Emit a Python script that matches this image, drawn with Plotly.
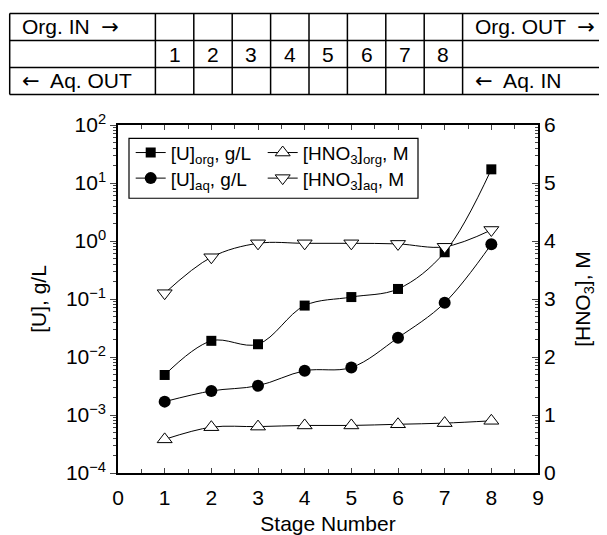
import math
import plotly.graph_objects as go

stages = [1, 2, 3, 4, 5, 6, 7, 8]
u_org = [0.0049, 0.019, 0.0166, 0.077, 0.108, 0.149, 0.64, 17.2]
u_aq = [0.0017, 0.0026, 0.0032, 0.0058, 0.0066, 0.0215, 0.086, 0.88]
hno3_org = [0.58, 0.79, 0.80, 0.82, 0.82, 0.84, 0.86, 0.90]
hno3_aq = [3.10, 3.72, 3.96, 3.96, 3.96, 3.95, 3.90, 4.19]

ARW = '<span style="font-family:DejaVu Sans">{}</span>'
table_top = ["Org. IN  " + ARW.format("\u2192"), "", "", "", "", "", "", "", "", "Org. OUT  " + ARW.format("\u2192")]
table_mid = ["", "1", "2", "3", "4", "5", "6", "7", "8", ""]
table_bot = [ARW.format("\u2190") + "  Aq. OUT", "", "", "", "", "", "", "", "", ARW.format("\u2190") + "  Aq. IN"]

left_tickvals = [1e-4, 1e-3, 1e-2, 1e-1, 1, 10, 100]
left_ticktext = ["10<sup>\u22124</sup>", "10<sup>\u22123</sup>", "10<sup>\u22122</sup>",
                 "10<sup>\u22121</sup>", "10<sup>0</sup>", "10<sup>1</sup>", "10<sup>2</sup>"]

FONT = "Liberation Sans, Arial, Helvetica, sans-serif"
OFF = 8.0  # page body margin
W, H = 607 - OFF, 535 - OFF
L, R, T, B = 118.3 - OFF, 538.3 - OFF, 125.0 - OFF, 473.3 - OFF

def px2x(px):
    return (px - OFF - L) / (R - L)

def px2y(py):
    return (B - (py - OFF)) / (B - T)

fig = go.Figure()

line = dict(color="black", width=1, shape="spline", smoothing=1.0)

fig.add_trace(go.Scatter(x=stages, y=u_org, mode="lines+markers", name="[U]<sub>org</sub>, g/L",
                         legend="legend", line=line, marker=dict(symbol="square", size=10, color="black")))
fig.add_trace(go.Scatter(x=stages, y=u_aq, mode="lines+markers", name="[U]<sub>aq</sub>, g/L",
                         legend="legend2", line=line, marker=dict(symbol="circle", size=12, color="black")))
fig.add_trace(go.Scatter(x=stages, y=hno3_org, mode="lines+markers", name="[HNO<sub>3</sub>]<sub>org</sub>, M",
                         yaxis="y2", legend="legend3", line=line,
                         marker=dict(symbol="triangle-up", size=13, color="white", line=dict(color="black", width=1))))
fig.add_trace(go.Scatter(x=stages, y=hno3_aq, mode="lines+markers", name="[HNO<sub>3</sub>]<sub>aq</sub>, M",
                         yaxis="y2", legend="legend4", line=line,
                         marker=dict(symbol="triangle-down", size=13, color="white", line=dict(color="black", width=1))))

left_minor = [m * 10.0 ** e for e in range(-4, 2) for m in range(2, 10)]
right_minor = [k + math.log10(m) for k in range(0, 6) for m in range(2, 10)]

shapes = []
row_lines = [13.3, 40.5, 67.5, 94.5]
col_lines = [10.0, 155.7] + [155.7 + 38.4 * i for i in range(1, 9)] + [609.0]
for yl in row_lines:
    shapes.append(dict(type="line", xref="paper", yref="paper",
                       x0=px2x(col_lines[0]), x1=px2x(col_lines[-1]), y0=px2y(yl), y1=px2y(yl),
                       line=dict(color="black", width=1.5)))
for xl in col_lines:
    shapes.append(dict(type="line", xref="paper", yref="paper",
                       x0=px2x(xl), x1=px2x(xl), y0=px2y(row_lines[0]), y1=px2y(row_lines[-1]),
                       line=dict(color="black", width=1.5)))

# legend frame
shapes.append(dict(type="rect", xref="paper", yref="paper", layer="above",
                   x0=px2x(129.3), x1=px2x(418.3), y0=px2y(198.3), y1=px2y(138.3),
                   fillcolor="white", line=dict(color="black", width=1.2)))

annotations = []
for r, row in enumerate([table_top, table_mid, table_bot]):
    yc = (row_lines[r] + row_lines[r + 1]) / 2
    for c, txt in enumerate(row):
        if not txt:
            continue
        if c == 0 or c == len(row) - 1:
            xpx = col_lines[c] + 10
            anchor = "left"
        else:
            xpx = (col_lines[c] + col_lines[c + 1]) / 2
            anchor = "center"
        annotations.append(dict(x=px2x(xpx), y=px2y(yc), xref="paper", yref="paper", text=txt,
                                showarrow=False, xanchor=anchor, yanchor="middle",
                                font=dict(family=FONT, size=21, color="black")))

FS = 21
LEGFONT = dict(family=FONT, size=19, color="black")

def leg(xpx, ypx):
    return dict(x=px2x(xpx), y=px2y(ypx), xanchor="left", yanchor="top",
                orientation="v", tracegroupgap=0, bgcolor="rgba(0,0,0,0)", borderwidth=0,
                font=LEGFONT, itemwidth=30)

fig.update_layout(
    width=W, height=H,
    margin=dict(l=L, r=W - R, t=T, b=H - B, pad=0, autoexpand=False),
    paper_bgcolor="white", plot_bgcolor="white",
    font=dict(family=FONT, size=FS, color="black"),
    showlegend=True,
    legend=leg(131, 133.7),
    legend2=leg(131, 159.3),
    legend3=leg(263, 133.7),
    legend4=leg(263, 159.3),
    xaxis=dict(range=[0, 9], dtick=1, tick0=0, ticks="inside", ticklen=5, tickwidth=1.2,
               showline=True, linecolor="black", linewidth=1.5, mirror="ticks",
               showgrid=False, zeroline=False, ticklabelstandoff=5, automargin=False,
               minor=dict(dtick=0.5, tick0=0, ticks="inside", ticklen=4, tickwidth=1.2, showgrid=False),
               title=dict(text="Stage Number", font=dict(size=FS), standoff=15),
               tickfont=dict(size=FS)),
    yaxis=dict(type="log", range=[-4, 2], tickvals=left_tickvals, ticktext=left_ticktext,
               ticks="outside", ticklen=6, tickwidth=1.2, automargin=False,
               showline=True, linecolor="black", linewidth=1.5, mirror=False,
               showgrid=False, zeroline=False,
               minor=dict(tickvals=left_minor, ticks="outside", ticklen=3.5, tickwidth=1, showgrid=False),
               title=dict(text="[U], g/L", font=dict(size=FS), standoff=14),
               tickfont=dict(size=FS)),
    yaxis2=dict(range=[0, 6], dtick=1, tick0=0, overlaying="y", side="right",
                ticks="inside", ticklen=6, tickwidth=1.2, automargin=False,
                showline=True, linecolor="black", linewidth=1.5,
                showgrid=False, zeroline=False,
                minor=dict(tickvals=right_minor, ticks="inside", ticklen=3.5, tickwidth=1, showgrid=False),
                title=dict(text="[HNO<sub>3</sub>], M", font=dict(size=FS), standoff=20),
                tickfont=dict(size=FS)),
    shapes=shapes,
    annotations=annotations,
)

fig.write_html("out.html")
